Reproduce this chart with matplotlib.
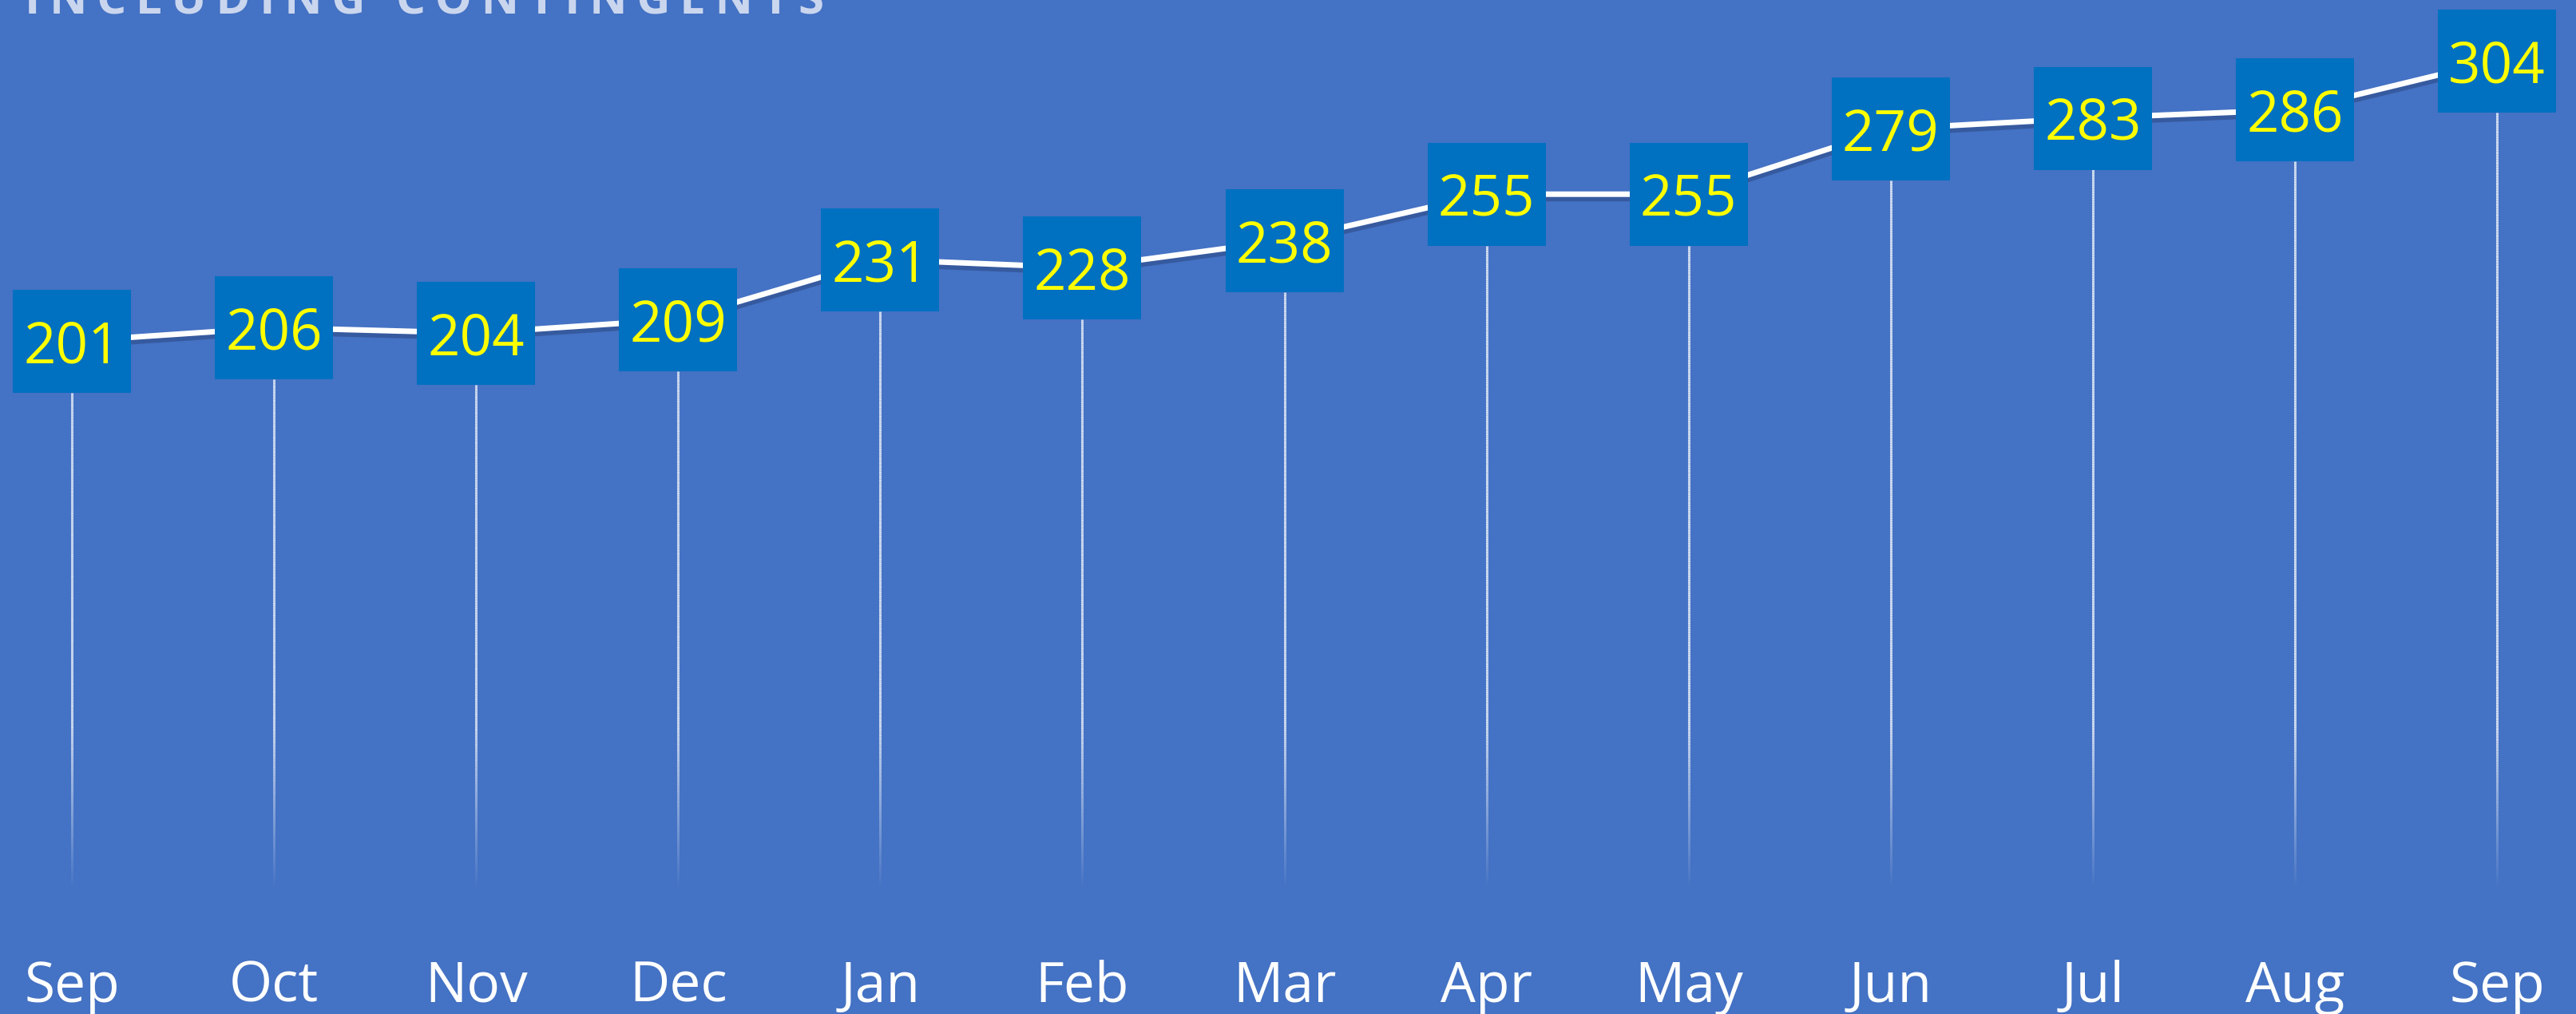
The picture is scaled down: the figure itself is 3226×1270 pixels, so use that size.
import matplotlib.pyplot as plt
import matplotlib.patheffects as pe
from matplotlib.collections import LineCollection
import numpy as np

months = ["Sep", "Oct", "Nov", "Dec", "Jan", "Feb", "Mar", "Apr", "May", "Jun", "Jul", "Aug", "Sep"]
values = [201, 206, 204, 209, 231, 228, 238, 255, 255, 279, 283, 286, 304]
title = "INCLUDING CONTINGENTS"

bg = "#4472C4"
box_color = "#0070C0"
font = ["Open Sans", "DejaVu Sans"]

fig = plt.figure(figsize=(32.26, 12.7), dpi=100, facecolor=bg)
ax = fig.add_axes([0, 0, 1, 1])
ax.set_facecolor(bg)
ax.set_xlim(-0.356, 12.391)
ax.set_ylim(-46, 326.3)
ax.axis("off")

x = np.arange(len(values))
box_h = 37.8  # data units (about 129 px)

# fading drop lines from each box down to zero
for xi, v in zip(x, values):
    ys = np.linspace(0, v - box_h / 2, 300)
    segs = [[(xi, ys[i]), (xi, ys[i + 1])] for i in range(len(ys) - 1)]
    mid = (ys[:-1] + ys[1:]) / 2
    alpha = np.clip(mid / 60.0, 0, 1) * 0.75
    cols = [(1, 1, 1, a) for a in alpha]
    ax.add_collection(LineCollection(segs, colors=cols, linewidths=2.2, zorder=1))

# main line with soft shadow
ax.plot(x, values, color="white", lw=5, zorder=2, solid_capstyle="round",
        path_effects=[pe.SimpleLineShadow(offset=(0, -4), shadow_color="#1c2f5c", alpha=0.35),
                      pe.Normal()])

# value boxes
rect = [(-74, -64.5), (74, -64.5), (74, 64.5), (-74, 64.5), (-74, -64.5)]
ax.plot(x, values, linestyle="none", marker=rect, markersize=148 * 0.72,
        markerfacecolor=box_color, markeredgewidth=0, zorder=3)

for xi, v in zip(x, values):
    ax.text(xi, v, str(v), ha="center", va="center_baseline", fontsize=51,
            color="#FFFF00", family=font, zorder=4)

# month labels
for xi, m in zip(x, months):
    ax.text(xi, 0.012, m, transform=ax.get_xaxis_transform(), ha="center",
            va="baseline", fontsize=50, color="white", family=font, zorder=4)

# title, partially cut off at the top (as in the source)
ax.text(31 / 3226, 1 - 17 / 1270, "\u2009".join(title), transform=ax.transAxes,
        ha="left", va="baseline", fontsize=42, fontweight="bold",
        color="#CAD6EE", family=font)

fig.savefig("out.png", dpi=100, facecolor=bg)
